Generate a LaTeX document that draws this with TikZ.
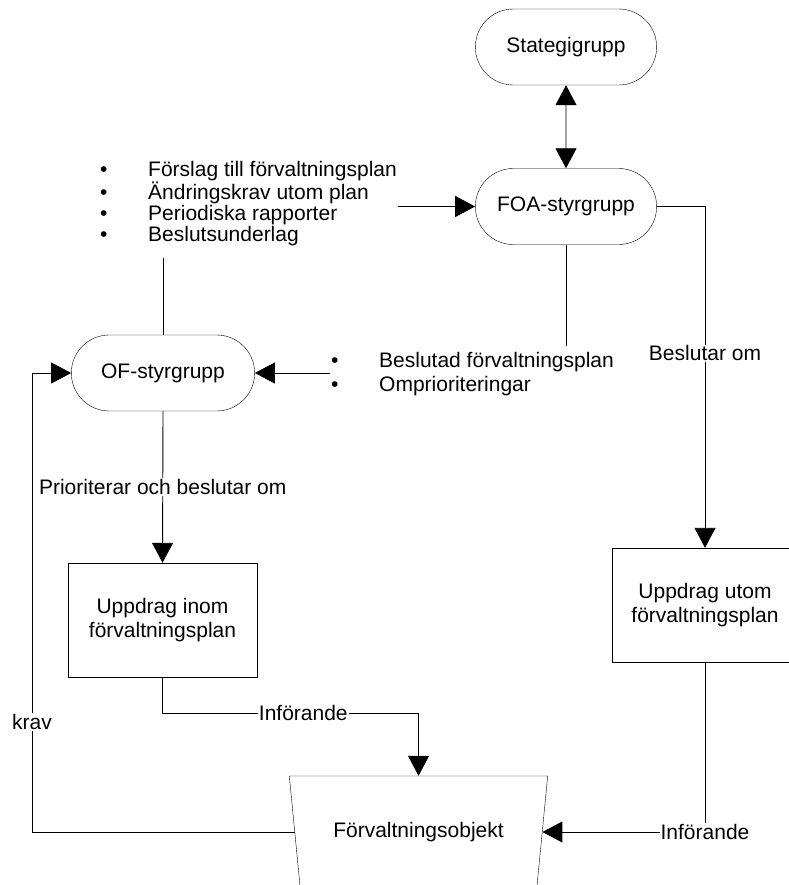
\documentclass[tikz,border=0pt]{standalone}
\usepackage{fontspec}
\setmainfont{Liberation Sans}
\usetikzlibrary{arrows.meta, shapes.misc, shapes.geometric}

\tikzset{
  grp/.style={draw, rounded rectangle, minimum width=188pt, minimum height=76pt},
  task/.style={draw, rectangle, minimum width=189pt, minimum height=114pt, align=center},
  bullets/.style={align=left, inner xsep=1pt, font=\fontsize{21}{21}\selectfont},
  lbl/.style={fill=white, inner sep=1pt},
  conn/.style={line width=.9pt},
}
\newcommand{\blt}{\makebox[48pt][l]{\textbullet}}

\begin{document}
\begin{tikzpicture}[x=1pt, y=-1pt, font=\fontsize{21}{24}\selectfont,
  >={Triangle[length=20pt,width=21pt]}]
\useasboundingbox (0,0) rectangle (788,885);
% Steering groups
\node (strat) [grp] at (566,47) {Stategigrupp};
\node (foa) [grp] at (566,206.5) {FOA-styrgrupp};
\node (of) [grp, minimum width=190pt] at (163,373) {OF-styrgrupp};
% Assignments
\node (inom) [task] at (162.5,620) {Uppdrag inom\\förvaltningsplan};
\node (utom) [task, minimum width=186pt] at (705,605) {Uppdrag utom\\förvaltningsplan};
% Managed object
\node (obj) [draw, trapezium, trapezium stretches, shape border rotate=180,
  trapezium angle=72.7, minimum width=259pt, minimum height=112pt] at (418.5,832) {Förvaltningsobjekt};
% Bullet lists
\node (props) [bullets, inner ysep=12pt, anchor=north west] at (99,149)
  {\blt Förslag till förvaltningsplan\\ \blt Ändringskrav utom plan\\
   \blt Periodiska rapporter\\ \blt Beslutsunderlag};
\node (decis) [bullets, inner ysep=6pt, anchor=north west,
  font=\fontsize{21}{24}\selectfont] at (330,346)
  {\blt Beslutad förvaltningsplan\\ \blt Omprioriteringar};
% Turning point of the feedback line
\coordinate (kravturn) at (32,0);
% Connectors
\draw [conn, <->] (strat) -- (foa);
\draw [conn, ->] (props.east |- foa.west) -- (foa.west);
\draw [conn] (props.south -| of.north) -- (of.north);
\draw [conn] (foa.south) -- (foa.south |- decis.north);
\draw [conn, ->] (decis.west |- of.east) -- (of.east);
\draw [conn, ->] (foa.east) -- (utom.north |- foa.east)
  -- node[lbl, pos=.43] {Beslutar om} (utom.north);
\draw [conn, ->] (of.south) -- node[lbl] {Prioriterar och beslutar om} (inom.north);
\draw [conn, ->] (inom.south) -- ++(0,36) coordinate (inomturn)
  -- node[lbl, pos=.55] {Införande} (inomturn -| obj.north) -- (obj.north);
\draw [conn, ->] (utom.south) -- (utom.south |- obj.east) node[lbl] {Införande} -- (obj.east);
\draw [conn, ->] (obj.west) -- (kravturn |- obj.west)
  -- node[lbl, pos=.24] {krav} (kravturn |- of.west) -- (of.west);
\end{tikzpicture}
\end{document}
